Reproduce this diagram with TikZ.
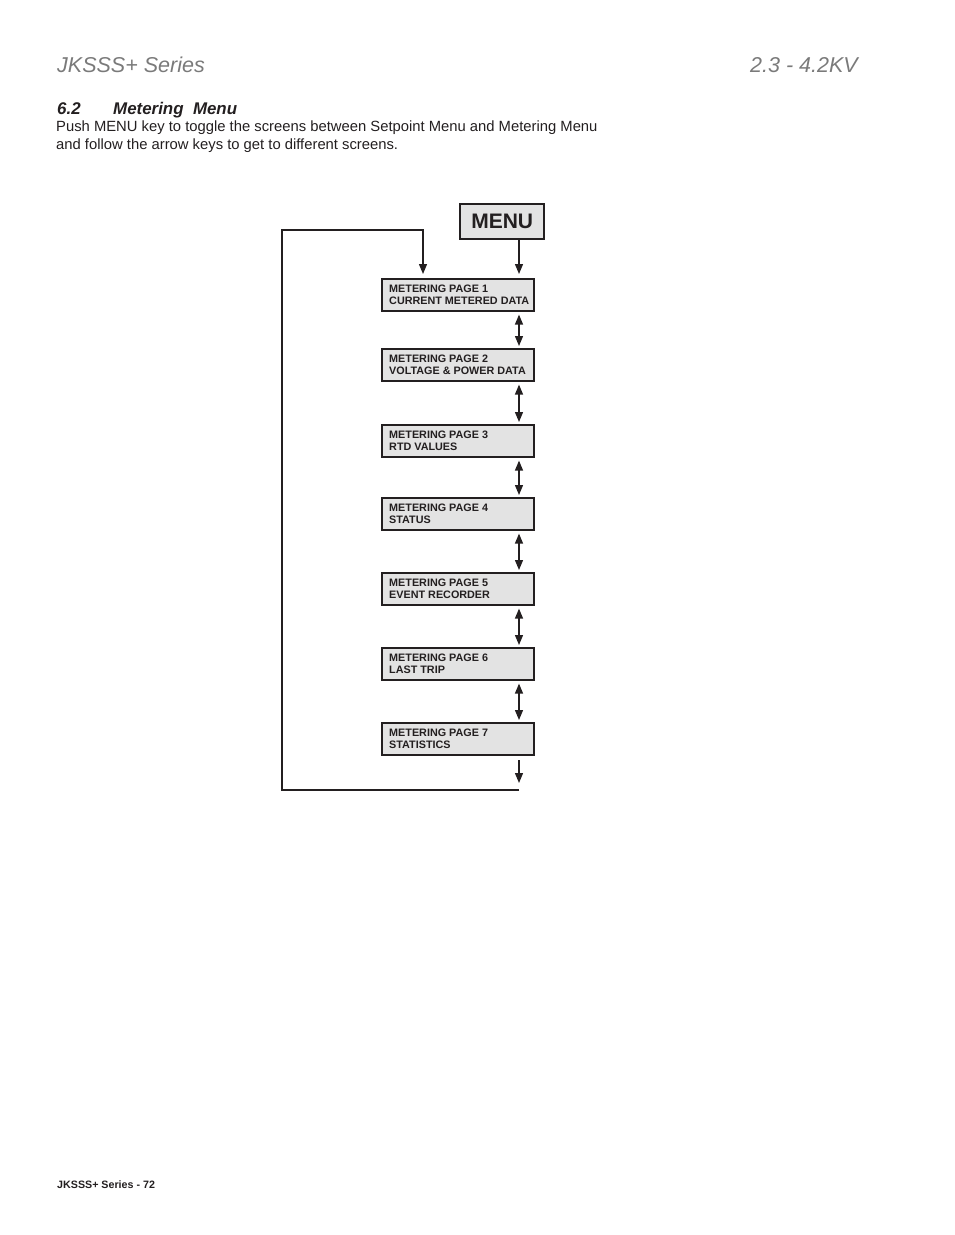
\documentclass[tikz,border=0pt]{standalone}
\usepackage{fontspec}
\setmainfont{Liberation Sans}
\usetikzlibrary{arrows.meta}
\definecolor{boxfill}{HTML}{E3E3E3}
\definecolor{hdr}{HTML}{7A7A7A}
\definecolor{ink}{HTML}{231F20}
\begin{document}
\begin{tikzpicture}[x=1pt,y=-1pt,
  pagebox/.style={draw=ink,line width=1.6pt,fill=boxfill,rectangle,anchor=north west,
    minimum width=152pt,minimum height=32pt,inner sep=0pt},
  pagetext/.style={anchor=west,inner sep=0pt,align=left,
    font=\fontsize{10.8}{12}\selectfont\bfseries,text=ink},
  conn/.style={draw=ink,line width=1.3pt},
  tip/.style={-{Triangle[length=10pt,width=8pt]}},
  dtip/.style={{Triangle[length=10pt,width=8pt]}-{Triangle[length=10pt,width=8pt]}}]
\useasboundingbox (0,0) rectangle (954,1235);
% header
\node[anchor=base west,inner sep=0pt,text=hdr,font=\fontsize{21.5}{24}\selectfont\itshape] (h1) at (57,72) {JKSSS+ Series};
\node[anchor=base east,inner sep=0pt,text=hdr,font=\fontsize{21.5}{24}\selectfont\itshape] (h2) at (858,72) {2.3 - 4.2KV};
\node[anchor=base west,inner sep=0pt,text=ink,font=\fontsize{16.9}{18}\selectfont\bfseries\itshape] (t1) at (57,114) {6.2};
\node[anchor=base west,inner sep=0pt,text=ink,font=\fontsize{16.9}{18}\selectfont\bfseries\itshape] (t2) at (113,114) {Metering\ \ Menu};
\node[anchor=base west,inner sep=0pt,text=ink,font=\fontsize{14.8}{18}\selectfont] (b1) at (56,131) {Push MENU key to toggle the screens between Setpoint Menu and Metering Menu};
\node[anchor=base west,inner sep=0pt,text=ink,font=\fontsize{14.8}{18}\selectfont] (b2) at (56,149) {and follow the arrow keys to get to different screens.};
\node[anchor=base west,inner sep=0pt,text=ink,font=\fontsize{10.7}{12}\selectfont\bfseries] (ft) at (57,1188) {JKSSS+ Series - 72};
% menu
\node[draw=ink,line width=2.4pt,fill=boxfill,rectangle,anchor=north west,minimum width=84pt,minimum height=35pt,inner sep=0pt,
  font=\fontsize{21}{24}\selectfont\bfseries,text=ink] (menu) at (459,203) {MENU};
% pages
\node[pagebox] (p1) at (381,278) {};
\node[pagebox] (p2) at (381,348) {};
\node[pagebox] (p3) at (381,424) {};
\node[pagebox] (p4) at (381,497) {};
\node[pagebox] (p5) at (381,572) {};
\node[pagebox] (p6) at (381,647) {};
\node[pagebox] (p7) at (381,722) {};
\node[pagetext] (p1t) at ([xshift=8pt]p1.west) {METERING PAGE 1\\CURRENT METERED DATA};
\node[pagetext] (p2t) at ([xshift=8pt]p2.west) {METERING PAGE 2\\VOLTAGE \& POWER DATA};
\node[pagetext] (p3t) at ([xshift=8pt]p3.west) {METERING PAGE 3\\RTD VALUES};
\node[pagetext] (p4t) at ([xshift=8pt]p4.west) {METERING PAGE 4\\STATUS};
\node[pagetext] (p5t) at ([xshift=8pt]p5.west) {METERING PAGE 5\\EVENT RECORDER};
\node[pagetext] (p6t) at ([xshift=8pt]p6.west) {METERING PAGE 6\\LAST TRIP};
\node[pagetext] (p7t) at ([xshift=8pt]p7.west) {METERING PAGE 7\\STATISTICS};
% connectors
\coordinate (ax) at (519,0);
\draw[conn,tip,shorten >=4pt] (menu.south -| ax) -- (p1.north -| ax);
\draw[conn,dtip,shorten >=2pt,shorten <=3pt] (p1.south -| ax) -- (p2.north -| ax);
\draw[conn,dtip,shorten >=2pt,shorten <=3pt] (p2.south -| ax) -- (p3.north -| ax);
\draw[conn,dtip,shorten >=2pt,shorten <=3pt] (p3.south -| ax) -- (p4.north -| ax);
\draw[conn,dtip,shorten >=2pt,shorten <=3pt] (p4.south -| ax) -- (p5.north -| ax);
\draw[conn,dtip,shorten >=2pt,shorten <=3pt] (p5.south -| ax) -- (p6.north -| ax);
\draw[conn,dtip,shorten >=2pt,shorten <=3pt] (p6.south -| ax) -- (p7.north -| ax);
\coordinate (s7) at (519,760);
\coordinate (e7) at (519,783);
\draw[conn,tip] (s7) -- (e7);
\coordinate (l1) at (519,790);
\coordinate (l2) at (282,790);
\coordinate (l3) at (282,230);
\coordinate (l4) at (423,230);
\draw[conn,tip,shorten >=4pt] (l1) -- (l2) -- (l3) -- (l4) -- (p1.north -| l4);
\end{tikzpicture}
\end{document}
